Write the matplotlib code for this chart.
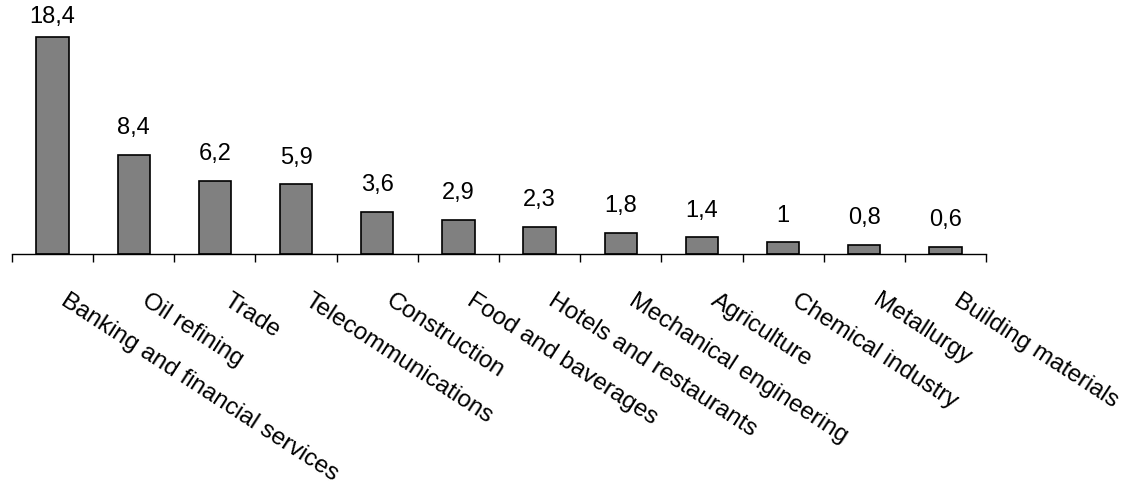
import matplotlib
matplotlib.use("Agg")
import matplotlib.pyplot as plt
import matplotlib.transforms as mtransforms

categories = ["Banking and financial services", "Oil refining", "Trade",
              "Telecommunications", "Construction", "Food and baverages",
              "Hotels and restaurants", "Mechanical engineering", "Agriculture",
              "Chemical industry", "Metallurgy", "Building materials"]
values = [18.4, 8.4, 6.2, 5.9, 3.6, 2.9, 2.3, 1.8, 1.4, 1.0, 0.8, 0.6]
value_labels = ["18,4", "8,4", "6,2", "5,9", "3,6", "2,9", "2,3", "1,8", "1,4", "1", "0,8", "0,6"]

plt.rcParams['font.family'] = ['Liberation Sans', 'DejaVu Sans']

fig = plt.figure(figsize=(11.25, 4.85), dpi=100)
ax = fig.add_axes([12/1125, (485-255)/485, (986-12)/1125, (255-19)/485])

x = list(range(len(categories)))
ax.bar(x, values, width=0.4, color="#808080", edgecolor="black", linewidth=1.2, zorder=2)

vmax = max(values)
for xi, v, lab in zip(x, values, value_labels):
    off = 7 if v == vmax else 12
    ax.annotate(lab, (xi, v), xytext=(0, off), textcoords="offset points",
                ha="center", va="bottom", fontsize=17)

ax.set_xlim(-0.5, len(categories) - 0.5)
ax.set_ylim(0, 20)
for s in ["top", "right", "left"]:
    ax.spines[s].set_visible(False)
ax.spines["bottom"].set_linewidth(1.0)
ax.set_yticks([])
ax.set_xticks([i - 0.5 for i in range(len(categories) + 1)])
ax.set_xticklabels([])
ax.tick_params(axis="x", direction="out", length=5.5, width=1.0)

trans = ax.get_xaxis_transform() + mtransforms.ScaledTranslation(12/72, -25/72, fig.dpi_scale_trans)
for xi, cat in zip(x, categories):
    ax.text(xi, 0, cat, transform=trans, rotation=-33, rotation_mode="anchor",
            ha="left", va="top", fontsize=17.5)

fig.savefig("out.png", dpi=100)
